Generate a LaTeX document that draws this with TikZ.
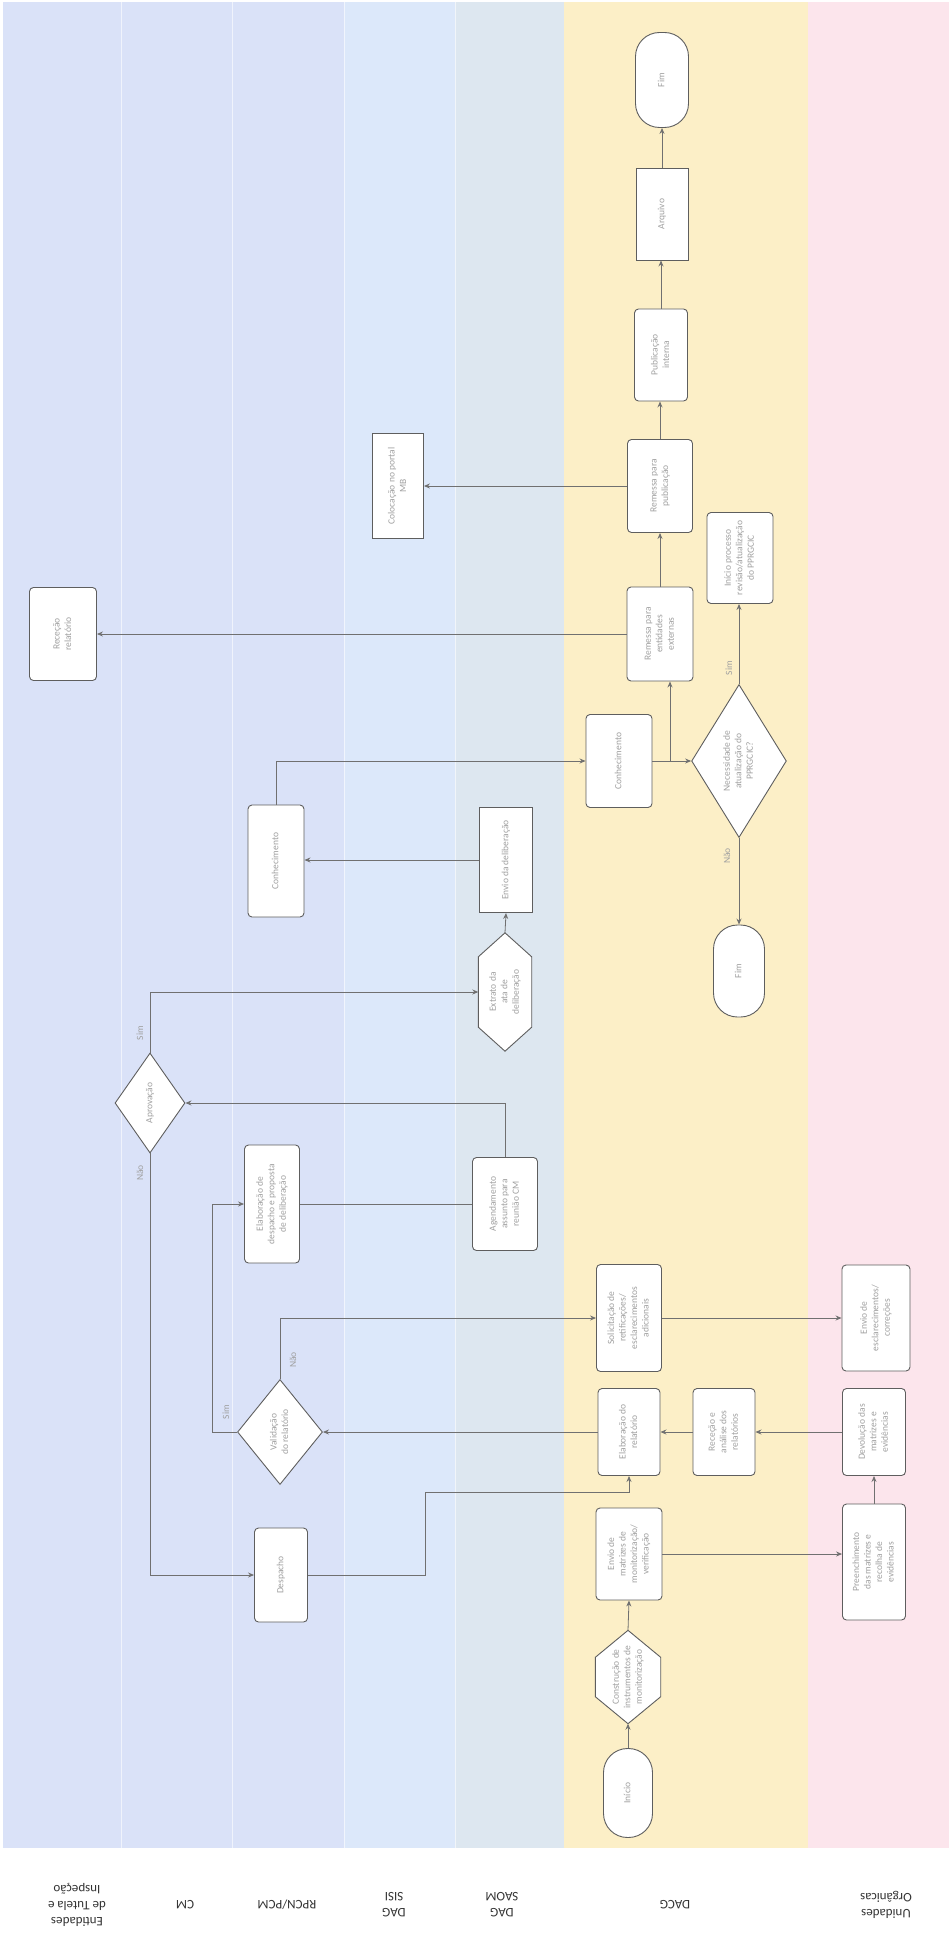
\documentclass[tikz,border=0pt]{standalone}
\usepackage{fontspec}
\setmainfont{Carlito}
\usetikzlibrary{shapes.geometric,arrows.meta,calc}
\definecolor{laneA}{HTML}{DAE2F8}
\definecolor{laneS}{HTML}{DCE8FA}
\definecolor{laneO}{HTML}{DDE7F0}
\definecolor{laneD}{HTML}{FCEFC7}
\definecolor{laneU}{HTML}{FCE5EC}
\definecolor{edgec}{HTML}{5E5E5E}
\definecolor{connc}{HTML}{707070}
\definecolor{ntext}{HTML}{A0A0A0}
\newcommand\rtxt[1]{\rotatebox{90}{\begin{tabular}{@{}c@{}}#1\end{tabular}}}
\newcommand\nodefnt{\fontsize{9.5}{11.5}\selectfont}
\newcommand\lanefnt{\fontsize{13}{16}\selectfont}
\begin{document}
\begin{tikzpicture}[x=1pt,y=-1pt,
  box/.style={rectangle, draw=edgec, fill=white, line width=0.9pt, rounded corners=4pt, inner sep=0pt, text=ntext, font=\nodefnt},
  sq/.style={box, sharp corners},
  term/.style={box, rounded corners=24pt},
  dia/.style={diamond, draw=edgec, fill=white, line width=0.9pt, inner sep=0pt, text=ntext, font=\nodefnt},
  hexb/.style={rectangle, draw=none, inner sep=0pt},
  hexd/.style={draw=edgec, fill=white, line width=0.9pt},
  txt/.style={text=ntext, font=\nodefnt, inner sep=0pt},
  arr/.style={draw=connc, line width=0.8pt, -{Stealth[length=6pt,width=5pt]}},
  ln/.style={draw=connc, line width=0.8pt},
  lbl/.style={text=ntext, font=\nodefnt, rotate=90, inner sep=1pt},
  lanelbl/.style={font=\lanefnt, text=black!80, align=center, rotate=180}]
\useasboundingbox (0,0) rectangle (949,1942);
\fill[white] (0,0) rectangle (949,1942);
% lanes
\fill[laneA] (3,2) rectangle (344,1848);
\fill[laneS] (344,2) rectangle (455,1848);
\fill[laneO] (455,2) rectangle (564,1848);
\fill[laneD] (564,2) rectangle (808,1848);
\fill[laneU] (808,2) rectangle (949,1848);
\foreach \xx in {121,232,344,455} {\draw[white, line width=1pt, opacity=0.6] (\xx,2) -- (\xx,1848);}
% lane labels
\node[lanelbl] (L1) at (77,1905) {Entidades\\de Tutela e\\Inspeção};
\node[lanelbl] (L2) at (185,1905) {CM};
\node[lanelbl] (L3) at (287,1905) {RPCN/PCM};
\node[lanelbl] (L4) at (394,1905) {DAG\\SISI};
\node[lanelbl] (L5) at (502,1905) {DAG\\SAOM};
\node[lanelbl] (L6) at (675,1905) {DACG};
\node[lanelbl] (L7) at (886,1905) {Unidades\\Orgânicas};

% nodes
\node[term, minimum width=49pt, minimum height=89pt] (ini) at (628,1793) {\rtxt{Início}};
\node[hexb, minimum width=65pt, minimum height=93pt] (cons) at (628,1677) {};
\draw[hexd] (cons.north) -- ([yshift=-27pt]cons.north east) -- ([yshift=27pt]cons.south east) -- (cons.south) -- ([yshift=27pt]cons.south west) -- ([yshift=-27pt]cons.north west) -- cycle;
\node[txt] (cons-t) at (cons.center) {\rtxt{Construção de\\instrumentos de\\monitorização}};
\node[box, minimum width=66pt, minimum height=92pt] (envm) at (629,1554) {\rtxt{Envio de\\matrizes de\\monitorização/\\verificação}};
\node[box, minimum width=63pt, minimum height=116pt] (pre) at (874,1562) {\rtxt{Preenchimento\\das matrizes e\\recolha de\\evidências}};
\node[box, minimum width=63pt, minimum height=87pt] (dev) at (874,1432) {\rtxt{Devolução das\\matrizes e\\evidências}};
\node[box, minimum width=62pt, minimum height=87pt] (rec) at (724,1432) {\rtxt{Receção e\\análise dos\\relatórios}};
\node[box, minimum width=62pt, minimum height=87pt] (elab) at (629,1432) {\rtxt{Elaboração do\\relatório}};
\node[box, minimum width=65pt, minimum height=107pt] (sol) at (629,1318) {\rtxt{Solicitação de\\retificações/\\esclarecimentos\\adicionais}};
\node[box, minimum width=68pt, minimum height=106pt] (escl) at (876,1318) {\rtxt{Envio de\\esclarecimentos/\\correções}};
\node[dia, minimum width=85pt, minimum height=105pt] (val) at (280,1432) {\rtxt{Validação\\do relatório}};
\node[box, minimum width=53pt, minimum height=94pt] (desp) at (281,1575) {\rtxt{Despacho}};
\node[box, minimum width=55pt, minimum height=118pt] (eldesp) at (272,1204) {\rtxt{Elaboração de\\despacho e proposta\\de deliberação}};
\node[box, minimum width=65pt, minimum height=93pt] (agend) at (505,1204) {\rtxt{Agendamento\\assunto para\\reunião CM}};
\node[dia, minimum width=70pt, minimum height=100pt] (apr) at (150,1103) {\rtxt{Aprovação}};
\node[hexb, minimum width=53pt, minimum height=118pt] (extr) at (505,992) {};
\draw[hexd] (extr.north) -- ([yshift=-24pt]extr.north east) -- ([yshift=24pt]extr.south east) -- (extr.south) -- ([yshift=24pt]extr.south west) -- ([yshift=-24pt]extr.north west) -- cycle;
\node[txt] (extr-t) at (extr.center) {\rtxt{Extrato da\\ata de\\deliberação}};
\node[sq, minimum width=53pt, minimum height=105pt] (envd) at (506,860) {\rtxt{Envio da deliberação}};
\node[box, minimum width=56pt, minimum height=112pt] (conR) at (276,861) {\rtxt{Conhecimento}};
\node[box, minimum width=66pt, minimum height=93pt] (conD) at (619,761) {\rtxt{Conhecimento}};
\node[dia, minimum width=92pt, minimum height=153pt] (nec) at (739,761) {\rtxt{Necessidade de\\atualização do\\PPRGCIC?}};
\node[term, minimum width=51pt, minimum height=92pt] (fim2) at (739,971) {\rtxt{Fim}};
\node[box, minimum width=66pt, minimum height=91pt] (inip) at (740,558) {\rtxt{Início processo\\revisão/atualização\\do PPRGCIC}};
\node[box, minimum width=66pt, minimum height=94pt] (rem) at (660,634) {\rtxt{Remessa para\\entidades\\externas}};
\node[box, minimum width=67pt, minimum height=93pt] (recR) at (63,634) {\rtxt{Receção\\relatório}};
\node[box, minimum width=65pt, minimum height=93pt] (rpub) at (660,486) {\rtxt{Remessa para\\publicação}};
\node[sq, minimum width=51pt, minimum height=105pt] (col) at (398,486) {\rtxt{Colocação no portal\\MB}};
\node[box, minimum width=53pt, minimum height=92pt] (pint) at (661,355) {\rtxt{Publicação\\interna}};
\node[sq, minimum width=52pt, minimum height=92pt] (arq) at (662,214) {\rtxt{Arquivo}};
\node[term, minimum width=53pt, minimum height=95pt] (fim1) at (662,80) {\rtxt{Fim}};

% connectors
\draw[arr] (ini.north) -- (cons.south);
\draw[arr] (cons.north) -- (envm.south);
\draw[arr] (envm.east) -- (envm.east -| pre.west);
\draw[arr] (pre.north) -- (pre.north |- dev.south);
\draw[arr] (dev.west) -- (rec.east);
\draw[arr] (rec.west) -- (elab.east);
\draw[arr] (elab.west) -- (val.east);
\draw[arr] (val.west) -- ++(-25,0) |- (eldesp.west);
\draw[arr] (val.north) |- (sol.west);
\draw[arr] (sol.east) -- (escl.west);
\draw[ln] (eldesp.east) -- (agend.west);
\draw[arr] (agend.north) |- (apr.east);
\draw[arr] (apr.south) |- (desp.west);
\draw[arr] (apr.north) |- (extr.west);
\draw[arr] (desp.east) -- (425,1575) -- (425,1492) -| (elab.south);
\draw[arr] (extr.north) -- (envd.south);
\draw[arr] (envd.west) -- (envd.west -| conR.east);
\draw[arr] (conR.north) |- (conD.west);
\draw[arr] (conD.east) -- (nec.west);
\draw[arr] (conD.east) -| ([xshift=10pt]rem.south);
\draw[arr] (nec.north) -- (nec.north |- inip.south);
\draw[arr] (nec.south) -- (fim2.north);
\draw[arr] (rem.west) -- (recR.east);
\draw[arr] (rem.north) -- (rpub.south);
\draw[arr] (rpub.west) -- (col.east);
\draw[arr] (rpub.north) -- (rpub.north |- pint.south);
\draw[arr] (pint.north) -- (pint.north |- arq.south);
\draw[arr] (arq.north) -- (fim1.south);

% connector labels
\node[lbl] (vs) at (226,1412) {Sim};
\node[lbl] (vn) at (293,1360) {Não};
\node[lbl] (as) at (140,1033) {Sim};
\node[lbl] (an) at (140,1173) {Não};
\node[lbl] (ns) at (729,668) {Sim};
\node[lbl] (nn) at (727,856) {Não};
\end{tikzpicture}
\end{document}
